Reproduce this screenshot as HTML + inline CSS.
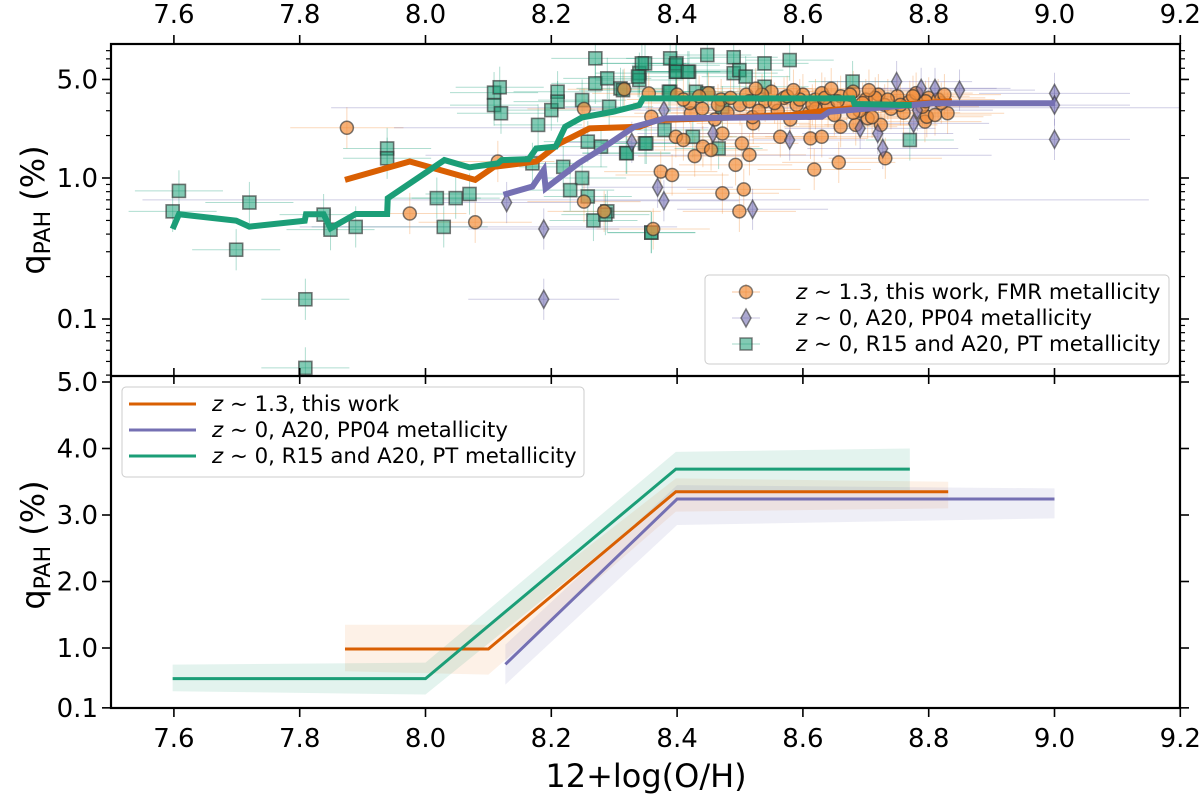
<!DOCTYPE html>
<html><head><meta charset="utf-8"><style>
html,body{margin:0;padding:0;background:#fff;}
svg{display:block;font-family:"DejaVu Sans","Liberation Sans",sans-serif;}
</style></head><body>
<svg id="chart" width="1200" height="797" viewBox="0 0 1200 797" xmlns="http://www.w3.org/2000/svg">
<defs>
<clipPath id="clipTop"><rect x="111" y="44" width="1069" height="332"/></clipPath>
<clipPath id="clipBot"><rect x="111" y="376" width="1069" height="332"/></clipPath>
</defs>
<g id="topErr" clip-path="url(#clipTop)"></g>
<g id="topMarks" clip-path="url(#clipTop)"></g>
<g id="topLines" clip-path="url(#clipTop)"></g>
<g id="botBands" clip-path="url(#clipBot)"></g>
<g id="botLines" clip-path="url(#clipBot)"></g>
<g id="axes"></g>

<g>
<rect x="705" y="275" width="464" height="89" rx="4" fill="#fff" fill-opacity="0.8" stroke="#ccc"/>
<g>
<line x1="732" y1="292" x2="760" y2="292" stroke="#f28e3c" stroke-opacity="0.5"/><line x1="746" y1="284" x2="746" y2="300" stroke="#f28e3c" stroke-opacity="0.5"/>
<circle cx="746" cy="292" r="6.5" fill="#f28e3c" fill-opacity="0.7" stroke="#333" stroke-opacity="0.6" stroke-width="1.5"/>
<text x="796" y="299" font-size="21.3"><tspan font-style="italic">z</tspan> ~ 1.3, this work, FMR metallicity</text></g>
<g>
<line x1="732" y1="318" x2="760" y2="318" stroke="#7570b3" stroke-opacity="0.4"/>
<path d="M746 309 L751 318 L746 327 L741 318 Z" fill="#7570b3" fill-opacity="0.6" stroke="#333" stroke-opacity="0.6" stroke-width="1.5"/>
<text x="796" y="325" font-size="21.3"><tspan font-style="italic">z</tspan> ~ 0, A20, PP04 metallicity</text></g>
<g>
<line x1="732" y1="344" x2="760" y2="344" stroke="#1b9e77" stroke-opacity="0.4"/>
<rect x="740" y="338" width="12" height="12" fill="#1b9e77" fill-opacity="0.55" stroke="#333" stroke-opacity="0.6" stroke-width="1.5"/>
<text x="796" y="351" font-size="21.3"><tspan font-style="italic">z</tspan> ~ 0, R15 and A20, PT metallicity</text></g>
</g>

<g>
<rect x="122" y="387" width="462" height="90" rx="4" fill="#fff" fill-opacity="0.8" stroke="#ccc"/>
<g><line x1="129" y1="404" x2="196" y2="404" stroke="#d95f02" stroke-width="3"/>
<text x="212" y="411" font-size="21.3"><tspan font-style="italic">z</tspan> ~ 1.3, this work</text></g>
<g><line x1="129" y1="430" x2="196" y2="430" stroke="#7570b3" stroke-width="3"/>
<text x="212" y="437" font-size="21.3"><tspan font-style="italic">z</tspan> ~ 0, A20, PP04 metallicity</text></g>
<g><line x1="129" y1="456" x2="196" y2="456" stroke="#1b9e77" stroke-width="3"/>
<text x="212" y="463" font-size="21.3"><tspan font-style="italic">z</tspan> ~ 0, R15 and A20, PT metallicity</text></g>
</g>

<text x="646" y="787" font-size="32" text-anchor="middle">12+log(O/H)</text>
<text transform="translate(44,210) rotate(-90)" font-size="32" text-anchor="middle">q<tspan font-size="22" dy="6">PAH</tspan><tspan dy="-6"> (%)</tspan></text>
<text transform="translate(44,545) rotate(-90)" font-size="32" text-anchor="middle">q<tspan font-size="22" dy="6">PAH</tspan><tspan dy="-6"> (%)</tspan></text>
</svg>
<script>
// ---- data ----
const greenLineX=[7.598,7.608,7.699,7.720,7.808,7.810,7.838,7.849,7.889,7.939,7.940,8.030,8.070,8.115,8.121,8.164,8.176,8.207,8.222,8.249,8.298,8.340,8.346,8.679,8.682,8.773];
const greenLineY=[0.435,0.553,0.498,0.452,0.498,0.553,0.553,0.440,0.555,0.555,0.718,1.34,1.19,1.27,1.34,1.36,1.62,1.67,2.31,2.69,2.95,3.29,3.67,3.67,3.35,3.29];
const orangeLineX=[7.872,7.975,8.079,8.109,8.176,8.213,8.261,8.340,8.369,8.450,8.582,8.642,8.750,8.837];
const orangeLineY=[0.97,1.31,0.97,1.20,1.31,1.76,2.25,2.31,2.58,2.65,2.80,3.03,3.30,3.50];
const purpleLineX=[8.124,8.170,8.188,8.191,8.243,8.277,8.332,8.381,8.630,8.642,8.807,9.001];
const purpleLineY=[0.76,0.87,1.14,0.845,1.27,1.58,2.31,2.65,2.72,2.95,3.39,3.39];

const squaresX=[7.598,7.608,7.699,7.720,7.809,7.809,7.838,7.849,7.889,7.939,7.939,8.018,8.029,8.048,8.070,8.109,8.118,8.109,8.120,8.170,8.179,8.200,8.210,8.210,8.219,8.249,8.230,8.258,8.267,8.289,8.258,8.279,8.319,8.270,8.270,8.289,8.310,8.292,8.249,8.340,8.349,8.340,8.349,8.389,8.398,8.398,8.419,8.389,8.380,8.359,8.425,8.399,8.399,8.417,8.448,8.490,8.490,8.499,8.509,8.539,8.579,8.430,8.448,8.387,8.344,8.338,8.351,8.320,8.286,8.359,8.466,8.539,8.679,8.770,8.472,8.314];
const squaresY=[0.58,0.81,0.31,0.67,0.138,0.045,0.55,0.43,0.45,1.62,1.38,0.72,0.45,0.72,0.77,4.03,4.4,3.29,2.88,1.27,2.38,3.03,4.09,3.48,1.20,1.0,0.82,0.74,0.50,0.58,1.81,1.67,1.50,7.06,4.69,5.09,4.32,3.2,3.57,5.54,6.5,4.95,1.76,7.06,6.3,5.67,5.67,4.09,2.19,0.41,1.96,6.5,5.67,5.67,7.45,7.18,5.54,5.82,5.24,6.5,6.86,4.09,3.98,4.09,6.5,5.24,1.76,1.50,0.55,0.41,1.62,4.44,4.83,1.86,3.2,4.2];

const circlesX=[7.875,7.975,8.079,8.115,8.252,8.252,8.284,8.316,8.355,8.359,8.362,8.374,8.392,8.398,8.410,8.428,8.422,8.441,8.454,8.472,8.472,8.493,8.499,8.506,8.503,8.515,8.521,8.564,8.612,8.618,8.630,8.657,8.731,8.830,8.660,8.684,8.703,8.724,8.794,8.797,
8.40,8.42,8.44,8.45,8.47,8.48,8.50,8.51,8.52,8.54,8.55,8.56,8.57,8.58,8.59,8.60,8.61,8.62,8.63,8.64,8.65,8.66,8.67,8.68,8.69,8.70,8.71,8.72,8.73,8.74,8.75,8.76,8.77,8.78,8.79,8.80,8.81,8.82,8.46,8.53,8.62,8.68,
8.41,8.435,8.465,8.485,8.515,8.535,8.555,8.575,8.595,8.615,8.635,8.655,8.675,8.695,8.715,8.735,8.755,8.775,8.795,8.815,8.825,8.705,8.645,8.585,8.525];
const circlesY=[2.27,0.56,0.485,1.31,3.09,0.68,0.58,4.26,3.98,2.72,0.435,1.11,1.05,1.96,1.86,1.43,2.88,1.67,1.58,2.07,0.78,1.24,0.58,0.83,1.76,1.46,2.44,1.96,1.91,1.15,1.96,1.29,1.38,2.88,2.31,2.38,2.65,2.38,2.51,2.72,
3.9,3.4,3.1,4.0,3.6,2.9,3.3,3.9,2.7,3.5,4.1,3.0,3.7,2.6,3.3,3.9,2.9,3.6,4.0,3.2,2.8,3.8,3.4,4.1,3.0,3.6,2.7,3.9,3.3,3.1,3.8,2.9,3.5,4.0,3.2,3.7,2.8,3.4,2.6,3.0,3.1,2.9,
3.6,3.8,3.3,3.7,3.5,3.9,3.4,3.8,3.6,3.3,3.7,3.5,3.9,3.4,3.7,3.6,3.3,3.8,3.5,3.6,3.9,4.2,4.3,4.2,4.3];

const diamondsX=[8.129,8.188,8.188,8.328,8.369,8.379,8.379,8.457,8.520,8.579,8.719,8.727,8.749,8.776,8.788,8.810,8.849,9.000,9.000,9.000,8.691,8.782];
const diamondsY=[0.67,0.435,0.138,1.79,0.86,0.69,3.03,2.07,0.60,1.86,2.07,1.62,4.83,2.44,4.32,4.32,4.2,3.98,3.29,1.88,2.25,3.03];
const wideErrX=[8.60,8.35,8.20,8.45,8.10];
const wideErrHalf=[0.75,0.80,0.25,0.45,0.30];
const wideErrY=[3.15,0.70,2.27,1.45,0.45];

const fitOrangeX=[7.872,8.100,8.398,8.831];
const fitOrangeY=[0.985,0.985,3.35,3.35];
const bandOrangeLo=[0.65,0.60,3.05,3.10];
const bandOrangeHi=[1.35,1.35,3.55,3.50];
const fitGreenX=[7.598,8.000,8.398,8.770];
const fitGreenY=[0.54,0.54,3.69,3.69];
const bandGreenLo=[0.35,0.30,3.35,3.35];
const bandGreenHi=[0.75,0.78,3.95,4.00];
const fitPurpleX=[8.127,8.400,9.000];
const fitPurpleY=[0.755,3.24,3.24];
const bandPurpleLo=[0.45,2.85,2.95];
const bandPurpleHi=[1.05,3.45,3.40];

const xTicks=[7.6,7.8,8.0,8.2,8.4,8.6,8.8,9.0,9.2];
const xTickLabels=["7.6","7.8","8.0","8.2","8.4","8.6","8.8","9.0","9.2"];
const topYTicks=[0.1,1.0,5.0];
const topYTickLabels=["0.1","1.0","5.0"];
const botYTicks=[0.1,1,2,3,4,5];
const botYTickLabels=["0.1","1.0","2.0","3.0","4.0","5.0"];

// ---- scales ----
const L=111,R=1180,T=44,M=376,B=708;
const X=v=>L+(v-7.5)*629;
const YT=q=>178-141*Math.log10(q);
const YB=q=>714.5-66.5*q;
const NS="http://www.w3.org/2000/svg";
function mk(tag,parent,attrs){const e=document.createElementNS(NS,tag);for(const k in attrs)e.setAttribute(k,attrs[k]);parent.appendChild(e);return e;}
const gErr=document.getElementById('topErr'),gM=document.getElementById('topMarks'),gL=document.getElementById('topLines');
const gBand=document.getElementById('botBands'),gBL=document.getElementById('botLines'),gA=document.getElementById('axes');

function errBars(xs,ys,col,dx){
  for(let i=0;i<xs.length;i++){
    const h=mk('line',gErr,{x1:X(xs[i]-dx),x2:X(xs[i]+dx),y1:YT(ys[i]),y2:YT(ys[i]),stroke:col,'stroke-opacity':0.35,'stroke-width':1});
    
    
    const v=mk('line',gErr,{x1:X(xs[i]),x2:X(xs[i]),y1:YT(ys[i]*1.4),y2:YT(ys[i]/1.4),stroke:col,'stroke-opacity':0.35,'stroke-width':1});
    
    
  }
}
errBars(squaresX,squaresY,'#1b9e77',0.07);
errBars(circlesX,circlesY,'#f28e3c',0.09);
errBars(diamondsX,diamondsY,'#7570b3',0.12);
for(let i=0;i<wideErrX.length;i++){
  const w=mk('line',gErr,{x1:X(wideErrX[i]-wideErrHalf[i]),x2:X(wideErrX[i]+wideErrHalf[i]),y1:YT(wideErrY[i]),y2:YT(wideErrY[i]),stroke:'#7570b3','stroke-opacity':0.35,'stroke-width':1});
  
  
}
for(let i=0;i<squaresX.length;i++){
  const s=mk('rect',gM,{x:X(squaresX[i])-6.5,y:YT(squaresY[i])-6.5,width:13,height:13,fill:'#1b9e77','fill-opacity':0.55,stroke:'#333','stroke-opacity':0.65,'stroke-width':1.6});
  
  
}
for(let i=0;i<circlesX.length;i++){
  const c=mk('circle',gM,{cx:X(circlesX[i]),cy:YT(circlesY[i]),r:6.5,fill:'#f28e3c','fill-opacity':0.7,stroke:'#333','stroke-opacity':0.65,'stroke-width':1.5});
  
  
}
for(let i=0;i<diamondsX.length;i++){
  const x=X(diamondsX[i]),y=YT(diamondsY[i]);
  const d=mk('path',gM,{d:`M${x} ${y-9} L${x+5} ${y} L${x} ${y+9} L${x-5} ${y} Z`,fill:'#7570b3','fill-opacity':0.6,stroke:'#333','stroke-opacity':0.6,'stroke-width':1.5});
  
  
}
function poly(g,xs,ys,Y,col,w,name){
  const p=mk('polyline',g,{points:xs.map((v,i)=>X(v)+','+Y(ys[i])).join(' '),fill:'none',stroke:col,'stroke-width':w,'stroke-linejoin':'miter'});
  
  
}
poly(gL,orangeLineX,orangeLineY,YT,'#d95f02',6,'median-line-this-work');
poly(gL,purpleLineX,purpleLineY,YT,'#7570b3',6,'median-line-a20-pp04');
poly(gL,greenLineX,greenLineY,YT,'#1b9e77',6,'median-line-r15-a20');

function band(xs,lo,hi,col,name){
  const pts=xs.map((v,i)=>X(v)+','+YB(hi[i])).concat(xs.slice().reverse().map((v,j)=>{const i=xs.length-1-j;return X(v)+','+YB(lo[i]);}));
  const p=mk('polygon',gBand,{points:pts.join(' '),fill:col,'fill-opacity':0.12});
  
  
}
band(fitOrangeX,bandOrangeLo,bandOrangeHi,'#f28e3c','band-this-work');
band(fitGreenX,bandGreenLo,bandGreenHi,'#1b9e77','band-r15-a20');
band(fitPurpleX,bandPurpleLo,bandPurpleHi,'#7570b3','band-a20-pp04');
poly(gBL,fitOrangeX,fitOrangeY,YB,'#d95f02',3,'fit-line-this-work');
poly(gBL,fitPurpleX,fitPurpleY,YB,'#7570b3',3,'fit-line-a20-pp04');
poly(gBL,fitGreenX,fitGreenY,YB,'#1b9e77',3,'fit-line-r15-a20');

// ---- axes ----
function ln(x1,y1,x2,y2,w,name){const e=mk('line',gA,{x1,y1,x2,y2,stroke:'#000','stroke-width':w});}
function tx(x,y,s,anchor,name){const e=mk('text',gA,{x,y,'font-size':26,'text-anchor':anchor});e.textContent=s;}
const fr=mk('rect',gA,{x:L,y:T,width:R-L,height:B-T,fill:'none',stroke:'#000','stroke-width':2.2});


ln(L,M,R,M,2.2,'panel-divider');
xTicks.forEach((v,i)=>{
  const x=X(v);
  ln(x,T,x,T-9,1.6,'top-x-tick');
  ln(x,M,x,M+8,1.6,'mid-x-tick');
  ln(x,M,x,M-8,1.6,'mid-x-tick');
  ln(x,B,x,B+9,1.6,'bottom-x-tick');
  tx(x,23,xTickLabels[i],'middle','top-x-tick-label');
  tx(x,747,xTickLabels[i],'middle','bottom-x-tick-label');
});
topYTicks.forEach((q,i)=>{const y=YT(q);ln(L,y,L-9,y,1.6,'top-y-tick');ln(R,y,R+9,y,1.6,'top-y-tick-right');tx(98,y+9,topYTickLabels[i],'end','top-y-tick-label');});
const minorDecs=[0.01,0.1,1];
minorDecs.forEach(d=>{for(let k=2;k<=9;k++){const q=d*k;if(k===5&&d===1)continue;const y=YT(q);if(y<T||y>M)continue;ln(L,y,L-5,y,1.2,'top-y-minor-tick');ln(R,y,R+5,y,1.2,'top-y-minor-tick-right');}});
botYTicks.forEach((q,i)=>{const y=YB(q);ln(L,y,L-9,y,1.6,'bottom-y-tick');ln(R,y,R+9,y,1.6,'bottom-y-tick-right');tx(98,y+9,botYTickLabels[i],'end','bottom-y-tick-label');});
</script>
</body></html>
